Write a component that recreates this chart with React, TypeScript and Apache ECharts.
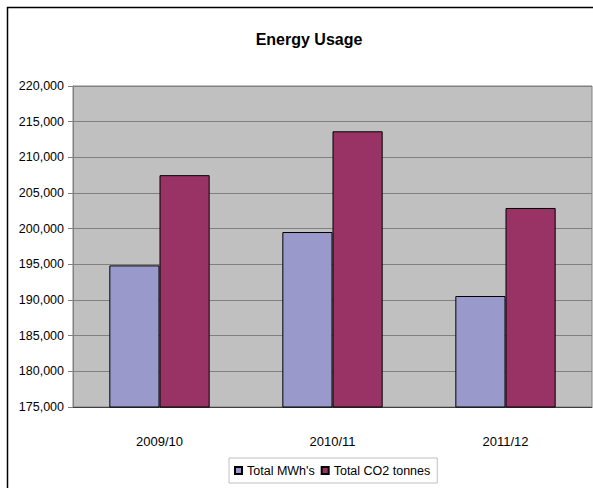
import React, { useEffect, useRef } from "react";
import * as echarts from "echarts";

const categories = ["2009/10", "2010/11", "2011/12"];
const mwh = [194850, 199530, 190560];
const co2 = [207500, 213650, 202900];
const seriesNames = ["Total MWh's", "Total CO2 tonnes"];

export default function App() {
  const ref = useRef<HTMLDivElement>(null);
  useEffect(() => {
    if (!ref.current) return;
    const chart = echarts.init(ref.current, null, { renderer: "svg" });
    const font = "Arial, 'Liberation Sans', sans-serif";
    chart.setOption({
      animation: false,
      backgroundColor: "#ffffff",
      textStyle: { fontFamily: font },
      title: {
        text: "Energy Usage",
        left: 304,
        textAlign: "center",
        top: 26,
        textStyle: { fontSize: 16, fontWeight: "bold", color: "#000", fontFamily: font },
      },
      graphic: [
        {
          type: "rect",
          shape: { x: 7.5, y: 7.5, width: 640, height: 540 },
          style: { fill: "none", stroke: "#000", lineWidth: 1.5 },
          silent: true,
        },
      ],
      grid: {
        left: 73,
        top: 86,
        right: 1,
        bottom: 81,
        show: true,
        backgroundColor: "#C0C0C0",
        borderColor: "#808080",
        borderWidth: 1,
      },
      legend: {
        data: seriesNames,
        left: 229,
        top: 458,
        itemWidth: 7,
        itemHeight: 7,
        itemGap: 6,
        padding: [6, 7, 6, 5],
        borderColor: "#c0c0c0",
        borderWidth: 1,
        icon: "rect",
        textStyle: { fontSize: 12.5, color: "#000", fontFamily: font },
      },
      xAxis: {
        type: "category",
        data: categories,
        axisLine: { show: true, lineStyle: { color: "#404040", width: 1 } },
        axisTick: { show: false },
        axisLabel: { margin: 28, fontSize: 13, color: "#000", fontFamily: font },
      },
      yAxis: {
        type: "value",
        min: 175000,
        max: 220000,
        interval: 5000,
        axisLine: { show: true, lineStyle: { color: "#808080" } },
        axisTick: { show: true, length: 5, lineStyle: { color: "#808080" } },
        splitLine: { show: true, lineStyle: { color: "#808080", width: 1 } },
        axisLabel: {
          margin: 9,
          fontSize: 12.5,
          color: "#000",
          fontFamily: font,
          formatter: (v: number) => v.toLocaleString("en-US"),
        },
      },
      series: [
        {
          name: seriesNames[0],
          type: "bar",
          data: mwh,
          barGap: "0%",
          barCategoryGap: "42%",
          itemStyle: { color: "#9999CC", borderColor: "#000", borderWidth: 1 },
        },
        {
          name: seriesNames[1],
          type: "bar",
          data: co2,
          itemStyle: { color: "#993366", borderColor: "#000", borderWidth: 1 },
        },
      ],
    });
    return () => chart.dispose();
  }, []);
  return (
    <div
      ref={ref}
      style={{ position: "fixed", left: 0, top: 0, width: 593, height: 488 }}
    />
  );
}
